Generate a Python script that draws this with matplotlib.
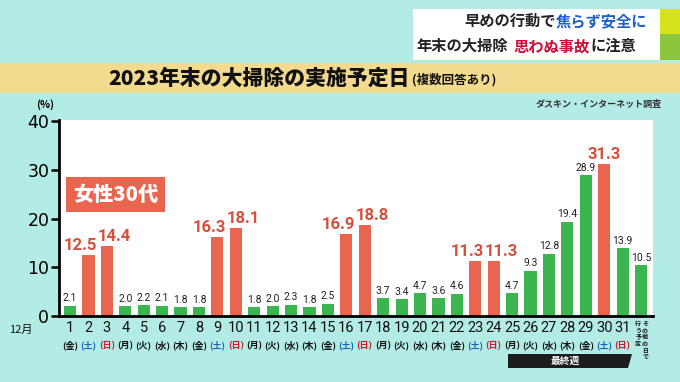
import numpy as np
import matplotlib.pyplot as plt
from matplotlib.patches import Rectangle, Polygon

plt.rcParams['font.family'] = ['Noto Sans CJK JP', 'DejaVu Sans']

# data
days = [str(d) for d in range(1, 32)] + ['']
weekdays = ['金', '土', '日', '月', '火', '水', '木', '金', '土', '日',
            '月', '火', '水', '木', '金', '土', '日', '月', '火', '水',
            '木', '金', '土', '日', '月', '火', '水', '木', '金', '土', '日', '']
values = [2.1, 12.5, 14.4, 2.0, 2.2, 2.1, 1.8, 1.8, 16.3, 18.1,
          1.8, 2.0, 2.3, 1.8, 2.5, 16.9, 18.8, 3.7, 3.4, 4.7,
          3.6, 4.6, 11.3, 11.3, 4.7, 9.3, 12.8, 19.4, 28.9, 31.3, 13.9, 10.5]
highlight = [2, 3, 9, 10, 16, 17, 23, 24, 30]
yticks = [0, 10, 20, 30, 40]

W, H = 680, 382
GREEN = '#3bb54f'
RED = '#ea6550'
RED_TXT = '#d4503c'
BG = '#b3ebe5'
NUM = ['Roboto', 'DejaVu Sans']


def px(x, y):
    return x / W, 1 - y / H


fig = plt.figure(figsize=(W / 100, H / 100), dpi=100, facecolor=BG)

# header box
fig.patches.append(Rectangle(px(413, 60), 247 / W, 51 / H, transform=fig.transFigure,
                             facecolor='white', edgecolor='none', zorder=0))
fig.patches.append(Rectangle(px(660, 60), 20 / W, 51 / H, transform=fig.transFigure,
                             facecolor='#8cc63f', edgecolor='none', zorder=0))
fig.patches.append(Rectangle(px(660, 34), 20 / W, 25 / H, transform=fig.transFigure,
                             facecolor='#d6e21e', edgecolor='none', zorder=0))
fig.text(*px(556, 21), '早めの行動で', ha='right', va='center', fontsize=11, weight='bold', color='#222222')
fig.text(*px(556, 21), '焦らず安全に', ha='left', va='center', fontsize=11, weight='bold', color='#1f5fc8')
fig.text(*px(508, 46), '年末の大掃除', ha='right', va='center', fontsize=11, weight='bold', color='#222222')
fig.text(*px(513, 46), '思わぬ事故', ha='left', va='center', fontsize=11, weight='bold', color='#c8103c')
fig.text(*px(590, 46), 'に注意', ha='left', va='center', fontsize=11, weight='bold', color='#222222')

# title banner
fig.patches.append(Rectangle(px(0, 93), 1, 30 / H, transform=fig.transFigure,
                             facecolor='#f2da8e', edgecolor='none', zorder=0))
fig.text(*px(410, 78), '2023年末の大掃除の実施予定日', ha='right', va='center',
         fontsize=15, weight='heavy', color='#111111')
fig.text(*px(412, 80), '(複数回答あり)', ha='left', va='center',
         fontsize=9, weight='bold', color='#111111')
fig.text(*px(662, 104), 'ダスキン・インターネット調査', ha='right', va='center',
         fontsize=6.5, weight='bold', color='#333333')

# chart
ax = fig.add_axes([59 / W, 66 / H, 594 / W, 196 / H])
ax.set_facecolor('white')
x = np.arange(len(values))
colors = [RED if (i + 1) in highlight else GREEN for i in x]
ax.bar(x, values, width=0.66, color=colors, zorder=2)
ax.set_xlim(-0.6, 31.65)
ax.set_ylim(0, 40.3)
ax.set_yticks(yticks)
ax.set_yticklabels([str(t) for t in yticks], fontsize=12.5, family=['DejaVu Sans'])
ax.set_xticks([])
ax.tick_params(axis='y', length=6, width=1.8, pad=1)
for s in ['top', 'right']:
    ax.spines[s].set_visible(False)
ax.spines['left'].set_linewidth(2)
ax.spines['bottom'].set_linewidth(2)

for i, v in enumerate(values):
    d = i + 1
    if d in highlight:
        # weekend pairs: labels pushed apart so they don't collide
        shift = 0.0
        if d + 1 in highlight:
            shift = -0.42
        elif d - 1 in highlight:
            shift = 0.42
        ax.text(i + shift, v + 0.4, f'{v:.1f}', ha='center', va='bottom', fontsize=12,
                weight='bold', color=RED_TXT, family=NUM, zorder=3)
    else:
        ax.text(i, v + 0.5, f'{v:.1f}', ha='center', va='bottom', fontsize=7.5,
                color='#222222', family=NUM, zorder=3)

fig.text(*px(45, 105), '(%)', ha='center', va='center', fontsize=7.5, weight='bold')

# category labels
tr = ax.get_xaxis_transform()
for i, (d, w) in enumerate(zip(days, weekdays)):
    if d:
        ax.text(i, -0.063, d, transform=tr, ha='center', va='center', fontsize=10.5,
                color='#111111', family=NUM, clip_on=False)
    if w:
        wc = '#1e64b4' if w == '土' else ('#c81e32' if w == '日' else '#111111')
        ax.text(i, -0.15, f'({w})', transform=tr, ha='center', va='center', fontsize=6.5,
                weight='bold', color=wc, clip_on=False)
ax.text(31.22, -0.02, '\n'.join('その他の日で'), transform=tr, ha='center', va='top',
        fontsize=4.3, weight='bold', color='#111111', linespacing=0.95, clip_on=False)
ax.text(30.85, -0.02, '\n'.join('行う予定'), transform=tr, ha='center', va='top',
        fontsize=4.3, weight='bold', color='#111111', linespacing=0.95, clip_on=False)
fig.text(*px(21, 330), '12月', ha='center', va='center', fontsize=8, color='#111111')

# last week banner
fig.patches.append(Polygon([px(508, 368), px(628, 368), px(632, 354), px(508, 354)],
                           closed=True, transform=fig.transFigure,
                           facecolor='#1c1c1c', edgecolor='none'))
fig.text(*px(565, 361), '最終週', ha='center', va='center', fontsize=7, weight='bold', color='white')

# female 30s badge
ax.text(0.024, 0.62, '女性30代', transform=ax.transAxes, ha='left', va='center', fontsize=14.5,
        weight='heavy', color='white',
        bbox=dict(boxstyle='square,pad=0.35', facecolor=RED, edgecolor='none'))

fig.savefig('out.png', dpi=100, facecolor=BG)
